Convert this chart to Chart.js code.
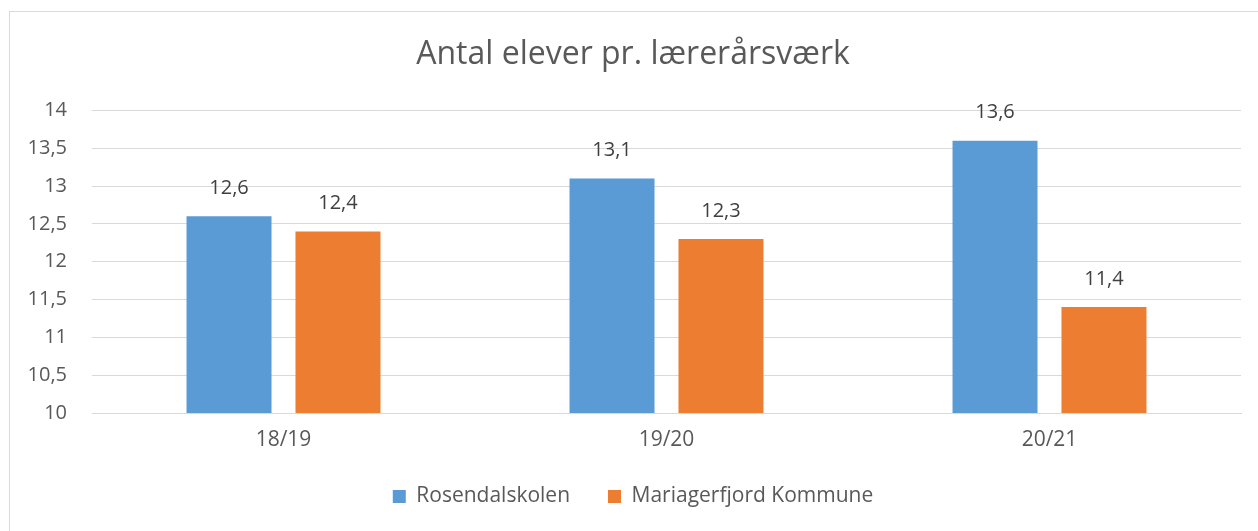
<!DOCTYPE html>
<html>
<head>
<meta charset="utf-8">
<script src="https://cdn.jsdelivr.net/npm/chart.js@4/dist/chart.umd.min.js"></script>
<style>
  html, body { margin: 0; padding: 0; background: #fff; overflow: hidden; }
  #wrap { position: relative; width: 1258px; height: 531px; }
  #frame { position: absolute; left: 9px; top: 11px; width: 1300px; height: 600px; border: 1px solid #d9d9d9; }
  canvas { position: absolute; left: 0; top: 0; }
</style>
</head>
<body>
<div id="wrap">
  <div id="frame"></div>
  <canvas id="chart" width="1258" height="531"></canvas>
</div>
<script>
// Data
const categories = ['18/19', '19/20', '20/21'];
const rosendalValues = [12.6, 13.1, 13.6];
const mariagerValues = [12.4, 12.3, 11.4];
const seriesNames = ['Rosendalskolen', 'Mariagerfjord Kommune'];

const FONT = '"Open Sans", sans-serif';
const TEXT = '#595959';

function fmt(v) {
  return String(v).replace('.', ',');
}

// Draw value labels above each bar
const valueLabels = {
  id: 'valueLabels',
  afterDatasetsDraw(chart) {
    const ctx = chart.ctx;
    ctx.save();
    ctx.font = '20px ' + FONT;
    ctx.fillStyle = '#404040';
    ctx.textAlign = 'center';
    ctx.textBaseline = 'middle';
    chart.data.datasets.forEach((ds, i) => {
      chart.getDatasetMeta(i).data.forEach((bar, j) => {
        ctx.fillText(fmt(ds.data[j]), bar.x, bar.y - 28);
      });
    });
    ctx.restore();
  }
};

const ctx = document.getElementById('chart').getContext('2d');
new Chart(ctx, {
  type: 'bar',
  data: {
    labels: categories,
    datasets: [
      { label: seriesNames[0], data: rosendalValues, backgroundColor: '#5b9bd5',
        categoryPercentage: 0.569, barPercentage: 0.78 },
      { label: seriesNames[1], data: mariagerValues, backgroundColor: '#ed7d31',
        categoryPercentage: 0.569, barPercentage: 0.78 }
    ]
  },
  options: {
    responsive: false,
    animation: false,
    layout: { padding: { left: 25, right: 17, top: 36, bottom: 14 } },
    plugins: {
      title: {
        display: true,
        text: 'Antal elever pr. lærerårsværk',
        color: TEXT,
        font: { family: FONT, size: 32, weight: 'normal' },
        padding: { top: 0, bottom: 36 }
      },
      legend: {
        position: 'bottom',
        labels: {
          color: TEXT,
          font: { family: FONT, size: 21 },
          boxWidth: 13,
          boxHeight: 13,
          padding: 38
        }
      },
      tooltip: { enabled: false }
    },
    scales: {
      x: {
        afterFit(scale) { scale.height = 35; },
        grid: { display: false, drawTicks: false },
        border: { display: true, color: '#d9d9d9' },
        ticks: { color: TEXT, font: { family: FONT, size: 21 }, padding: 14 }
      },
      y: {
        min: 10,
        max: 14,
        afterFit(scale) { scale.width = 67; },
        grid: { color: '#d9d9d9', drawTicks: false },
        border: { display: false },
        ticks: {
          stepSize: 0.5,
          color: TEXT,
          font: { family: FONT, size: 20 },
          padding: 25,
          callback: v => fmt(v)
        }
      }
    }
  },
  plugins: [valueLabels]
});
</script>
</body>
</html>
